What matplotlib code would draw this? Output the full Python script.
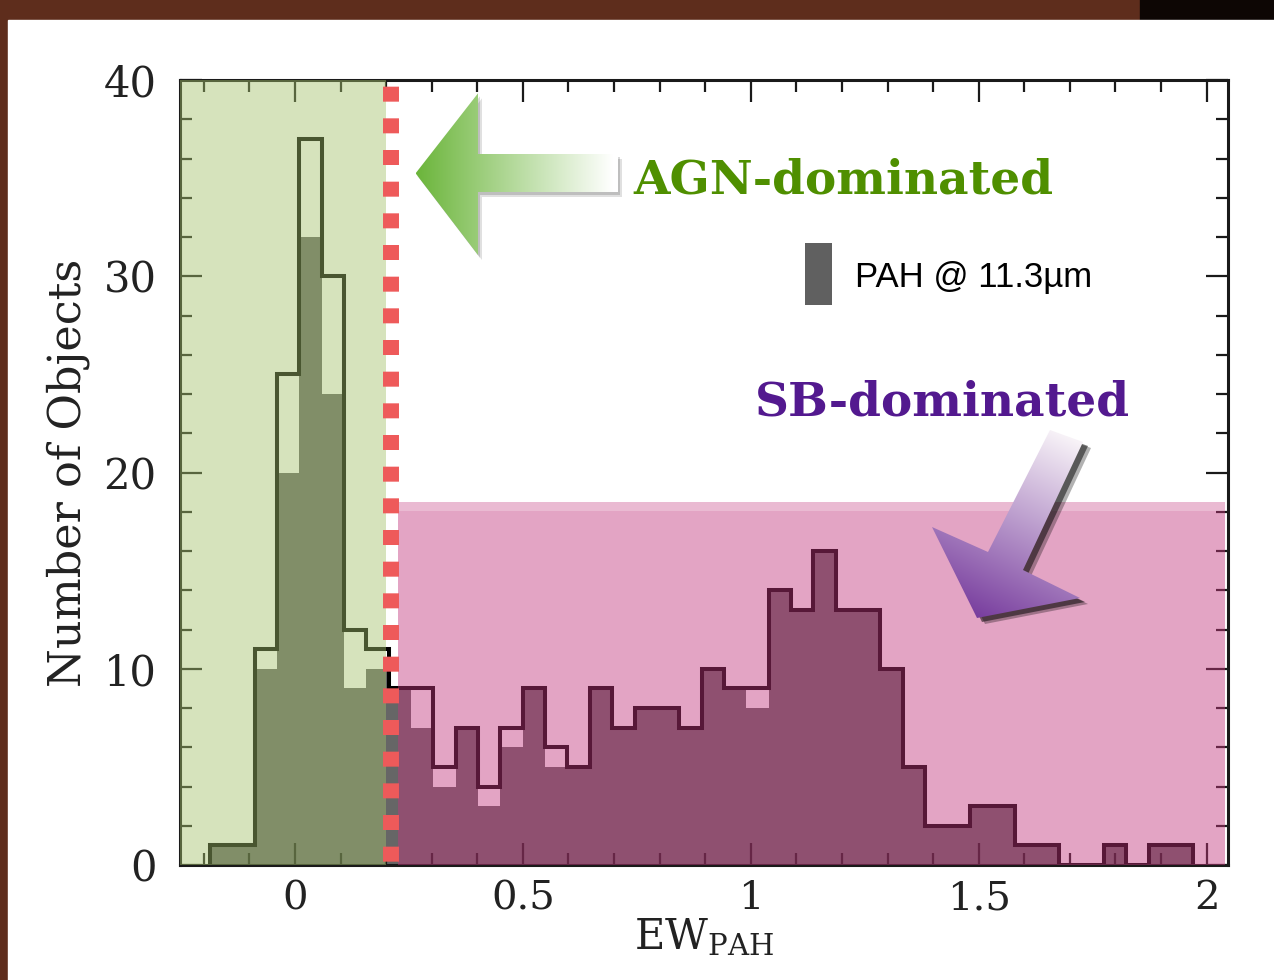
import numpy as np
import matplotlib.pyplot as plt
from matplotlib.patches import Rectangle, Polygon
from matplotlib.ticker import MultipleLocator

plt.rcParams['font.family'] = ['DejaVu Serif']
plt.rcParams['mathtext.fontset'] = 'dejavuserif'
plt.rcParams['lines.scale_dashes'] = False

# histogram bins (EW_PAH)
bin_start = -0.187
bin_width = 0.04905
# outline histogram (all objects)
counts_all = [1, 1, 11, 25, 37, 30, 12, 11, 9, 9, 5, 7, 4, 7, 9, 6, 5, 9, 7, 8, 8, 7,
              10, 9, 9, 14, 13, 16, 13, 13, 10, 5, 2, 2, 3, 3, 1, 1, 0, 0, 1, 0, 1, 1]
# filled histogram: PAH @ 11.3um
counts_113 = [1, 1, 10, 20, 32, 24, 9, 10, 9, 7, 4, 7, 3, 6, 9, 5, 5, 9, 7, 8, 8, 7,
              10, 9, 8, 14, 13, 16, 13, 13, 10, 5, 2, 2, 3, 3, 1, 1, 0, 0, 1, 0, 1, 1]
edges = bin_start + bin_width * np.arange(len(counts_all) + 1)

xticks = [0, 0.5, 1, 1.5, 2]
xticklabels = ['0', '0.5', '1', '1.5', '2']
yticks = [0, 10, 20, 30, 40]

agn_cut = 0.20      # end of green AGN region
line_x = 0.211      # red dashed divider
sb_start, sb_end, sb_top = 0.226, 2.041, 18.5

W, H = 1274, 980
fig = plt.figure(figsize=(W / 100, H / 100), dpi=100, facecolor='#5e2d1c')
fig.patches.append(Rectangle((1140 / W, 960 / H), 1, 1, transform=fig.transFigure,
                             color='#0d0604', zorder=-9))
fig.patches.append(Rectangle((8 / W, 0), 1, 960 / H, transform=fig.transFigure,
                             color='white', zorder=-8))

ax = fig.add_axes([180 / W, 115 / H, 1048 / W, 785 / H])

ax.stairs(counts_113, edges, fill=True, color='#666666', lw=0, zorder=1)
ax.stairs(counts_all, edges, color='black', lw=2.9, zorder=2)

# shaded regions
green = np.array([164, 193, 107]) / 255
pink = np.array([195, 54, 125]) / 255
ax.axvspan(-0.3, agn_cut, color=green, alpha=0.45, lw=0, zorder=3)
ax.add_patch(Rectangle((sb_start, 0), sb_end - sb_start, sb_top, color=pink,
                       alpha=0.45, lw=0, zorder=3))
ax.add_patch(Rectangle((sb_start, sb_top - 0.45), sb_end - sb_start, 0.45,
                       color='white', alpha=0.25, lw=0, zorder=3.1))

ax.plot([line_x, line_x], [0, 40], color='#ee5a5a', lw=11.5,
        linestyle=(20.4, (10.8, 12.0)), dash_capstyle='butt', zorder=4)


def px(x, y):
    # reference pixel -> axes fraction
    return ((x - 180) / 1048, (865 - y) / 785)


def gradient_arrow(pts, c0, c1, p0, p1, shadow):
    poly = [px(*p) for p in pts]
    for (dx, dy, a) in shadow:
        sh = [(x + dx / 1048, y - dy / 785) for x, y in poly]
        ax.add_patch(Polygon(sh, closed=True, transform=ax.transAxes, color='black',
                             alpha=a, lw=0, zorder=5))
    xs = [p[0] for p in pts]
    ys = [p[1] for p in pts]
    gx = np.linspace(min(xs), max(xs), 200)
    gy = np.linspace(max(ys), min(ys), 200)
    GX, GY = np.meshgrid(gx, gy)
    d = np.array(p1, float) - np.array(p0, float)
    t = ((GX - p0[0]) * d[0] + (GY - p0[1]) * d[1]) / (d @ d)
    t = np.clip(t, 0, 1)[..., None]
    img = (1 - t) * np.array(c0) + t * np.array(c1)
    (x0, y0), (x1, y1) = px(min(xs), max(ys)), px(max(xs), min(ys))
    im = ax.imshow(img, extent=[x0, x1, y0, y1], transform=ax.transAxes,
                   origin='lower', aspect='auto', zorder=6, interpolation='bilinear')
    clip = Polygon(poly, closed=True, transform=ax.transAxes, fc='none', lw=0)
    ax.add_patch(clip)
    im.set_clip_path(clip)


green_arrow = [(415.6, 173.3), (478, 93.3), (478, 154), (618, 154),
               (618, 192), (478, 192), (478, 255)]
gradient_arrow(green_arrow, [0.42, 0.71, 0.23], [1, 1, 1], (415.6, 173), (612, 173),
               [(4, 5, 0.12), (2, 3, 0.15)])

purple_arrow = [(1050, 430), (1083, 442), (1023, 570), (1080, 598),
                (977, 618), (932, 527), (988, 552)]
gradient_arrow(purple_arrow, [0.97, 0.95, 0.97], [0.47, 0.24, 0.62], (1066.5, 436),
               (977, 618), [(8, 6, 0.3), (5, 4, 0.5)])

ax.text(*px(633, 193), 'AGN-dominated', transform=ax.transAxes, ha='left', va='baseline',
        fontsize=33.8, fontweight='bold', color='#4f8f00', zorder=7)
ax.text(*px(755, 415), 'SB-dominated', transform=ax.transAxes, ha='left', va='baseline',
        fontsize=33.8, fontweight='bold', color='#53198f', zorder=7)

bx0, by0 = px(805, 305)
bx1, by1 = px(832, 243)
ax.add_patch(Rectangle((bx0, by0), bx1 - bx0, by1 - by0, transform=ax.transAxes,
                       color='#606060', lw=0, zorder=7))
ax.text(*px(855, 277), 'PAH @ 11.3µm', transform=ax.transAxes, ha='left', va='center',
        fontsize=25, family=['Liberation Sans', 'DejaVu Sans'], color='black', zorder=7)

ax.set_xlim(-0.2524, 2.047)
ax.set_ylim(0, 40)
ax.set_xticks(xticks)
ax.set_xticklabels(xticklabels)
ax.set_yticks(yticks)
ax.xaxis.set_minor_locator(MultipleLocator(0.1))
ax.yaxis.set_minor_locator(MultipleLocator(2))
ax.tick_params(which='both', direction='in', top=True, right=True, width=1.6,
               colors='#1a1a1a', labelcolor='#222222')
ax.tick_params(which='major', length=16)
ax.tick_params(which='minor', length=8.5)
ax.tick_params(axis='x', pad=11, labelsize=29)
ax.tick_params(axis='y', pad=17, labelsize=30)
for s in ax.spines.values():
    s.set_linewidth(2.2)
    s.set_color('#1a1a1a')

ax.set_xlabel(r'$\mathrm{EW}_{\mathrm{PAH}}$', fontsize=30, color='#222222')
ax.set_ylabel('Number of Objects', fontsize=32, color='#222222')
ax.xaxis.set_label_coords(0.5, -0.066)
ax.yaxis.set_label_coords(-0.086, 0.5)

fig.savefig('out.png', dpi=100, facecolor=fig.get_facecolor())
